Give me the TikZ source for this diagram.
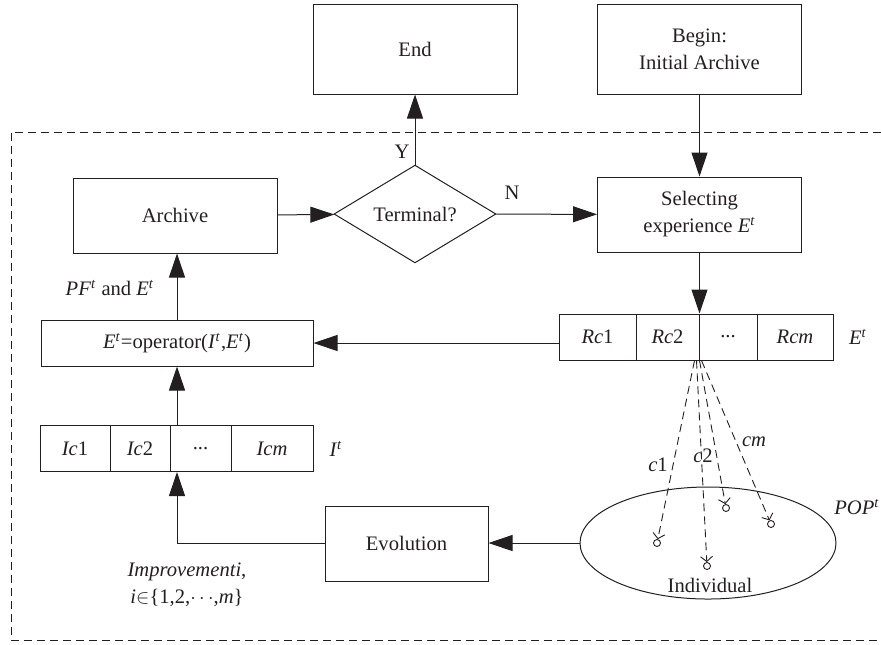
\documentclass[tikz,border=0pt]{standalone}
\usepackage{fontspec}
\setmainfont{Liberation Serif}
\usetikzlibrary{arrows.meta,shapes.geometric}
\definecolor{ink}{RGB}{35,31,32}
\newcommand{\supt}[1]{\textit{#1}\textsuperscript{\textit{t}}}

\begin{document}
\begin{tikzpicture}[x=0.5pt,y=-0.5pt,line width=0.5pt,color=ink,
    font=\fontsize{10.3}{13.5}\selectfont,
    box/.style={draw,minimum width=102pt,minimum height=37.5pt,align=center},
    cell/.style={draw,minimum height=23pt,inner sep=0pt},
    arr/.style={-{Triangle[length=12pt,width=8pt]}},
    link/.style={dash pattern=on 4pt off 2.5pt,line width=0.45pt,-{Straight Barb[length=2.5pt,width=6pt]}},
    ind/.style={draw,circle,line width=0.45pt,minimum size=3.5pt,inner sep=0pt}]
    \useasboundingbox (0,0) rectangle (881,644);

    % dashed loop frame
    \draw[dash pattern=on 4pt off 2.5pt] (881,132) -- (11,132) -- (11,640) -- (881,640);

    \node[box,minimum height=45pt] (end) at (415,49) {End};
    \node[box,minimum height=45pt] (begin) at (699.5,49) {Begin:\\Initial Archive};
    \node[box] (arch) at (175,215.5) {Archive};
    \node[draw,diamond,minimum width=81pt,minimum height=44pt,inner sep=0pt] (term) at (415,214) {Terminal?};
    \node[box] (sel) at (699.5,214.5) {Selecting\\experience \supt{E}};
    \node[draw,minimum width=136pt,minimum height=23pt] (op) at (177,343) {\supt{E}=operator(\supt{I},\supt{E})};
    \node[box,minimum width=81.5pt] (evo) at (406.5,543.5) {Evolution};

    % experience cells
    \node[cell,minimum width=38.5pt] (rc1) at (597.5,337) {\textit{Rc}1};
    \node[cell,minimum width=31.5pt] (rc2) at (667.5,337) {\textit{Rc}2};
    \node[cell,minimum width=29pt] (rc3) at (728,337) {...};
    \node[cell,minimum width=38pt] (rcm) at (795,337) {\textit{Rcm}};

    % improvement cells
    \node[cell,minimum width=35pt] (ic1) at (75,448.5) {\textit{Ic}1};
    \node[cell,minimum width=30pt] (ic2) at (140,448.5) {\textit{Ic}2};
    \node[cell,minimum width=30.5pt] (ic3) at (200.5,448.5) {...};
    \node[cell,minimum width=41pt] (icm) at (272,448.5) {\textit{Icm}};

    % population
    \node[draw,ellipse,minimum width=128pt,minimum height=56pt,inner sep=0pt] (pop) at (708,543) {};
    \node[ind] (p1) at (657,543) {};
    \node[ind] (p2) at (707,566) {};
    \node[ind] (p3) at (726,508) {};
    \node[ind] (pm) at (771,524) {};

    \draw[arr] (term) -- (end);
    \draw[arr] (begin) -- (sel);
    \draw[arr] (arch) -- (term);
    \draw[arr] (term) -- (sel);
    \draw[arr] (sel) -- (sel |- rc2.north);
    \draw[arr] (rc1.west |- op.east) -- (op.east);
    \draw[arr] (op.north) -- (op.north |- arch.south);
    \draw[arr] (op.south |- ic1.north) -- (op.south);
    \draw[arr] (evo.west) -| (op.south |- ic1.south);
    \draw[arr] (pop.west) -- (pop.west -| evo.east);
    \foreach \n/\dx in {p1/-2,p2/-1,p3/0.5,pm/1.5}
        \draw[link] ([xshift=\dx pt]rc3.south west) -- (\n);

    \node at (402,152) {Y};
    \node at (512,193) {N};
    \node at (110,288) {\supt{PF} and \supt{E}};
    \node at (336,449) {\supt{I}};
    \node at (858,337) {\supt{E}};
    \node at (857,507) {\supt{POP}};
    \node at (658,465) {\textit{c}1};
    \node at (703,456) {\textit{c}2};
    \node at (754,442) {\textit{cm}};
    \node at (710,585) {Individual};
    \node[align=center] at (187,585) {\textit{Improvementi},\\\textit{i}$\in$\{1,2,$\cdots$,\textit{m}\}};
\end{tikzpicture}
\end{document}
